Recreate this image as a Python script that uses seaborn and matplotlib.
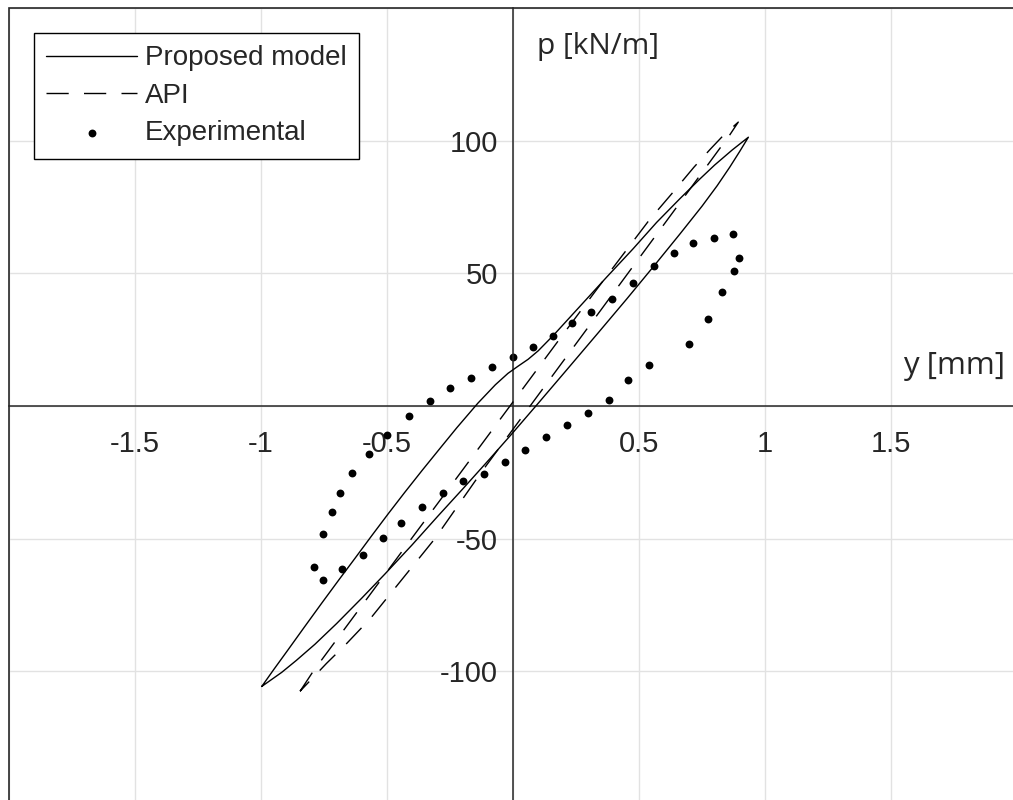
import matplotlib
matplotlib.use("Agg")
import matplotlib.pyplot as plt
import seaborn as sns
import numpy as np
import pandas as pd
from matplotlib.patches import Rectangle

# ---------------- data ----------------
# Proposed model loop: upper branch (from negative tip to positive tip)
model_up_x = [-0.997, -0.95, -0.892, -0.83, -0.759, -0.69, -0.627, -0.56, -0.495, -0.43,
              -0.36, -0.29, -0.223, -0.14, -0.07, -0.02, 0.02, 0.06, 0.10, 0.16, 0.266,
              0.372, 0.477, 0.570, 0.663, 0.742, 0.80, 0.87, 0.934]
model_up_y = [-105.7, -99.4, -91.8, -83.6, -74.3, -65.4, -57.4, -48.8, -40.6, -32.6,
              -24.2, -16.0, -8.2, 1.0, 8.0, 12.3, 15.0, 17.6, 20.8, 26.6, 37.6,
              48.6, 59.3, 69.2, 78.2, 85.6, 90.8, 96.5, 101.3]
# lower branch (from positive tip back to negative tip)
model_lo_x = [0.934, 0.90, 0.86, 0.81, 0.75, 0.663, 0.557, 0.451, 0.34, 0.213, 0.107, 0.0,
              -0.091, -0.197, -0.30, -0.40, -0.508, -0.60, -0.70, -0.786, -0.86, -0.918,
              -0.997]
model_lo_y = [101.3, 96.0, 90.0, 83.0, 75.3, 64.9, 52.5, 40.3, 27.8, 13.6, 1.8, -10.0,
              -19.8, -31.0, -41.7, -52.3, -63.3, -72.4, -82.0, -89.8, -95.9, -100.4,
              -105.7]

# API loop
api_up_x = [-0.845, -0.793, -0.715, -0.598, -0.403, -0.207, -0.012, 0.183, 0.380,
            0.540, 0.630, 0.718, 0.785, 0.835, 0.894]
api_up_y = [-107.5, -100, -90, -75, -50, -25, 0, 25, 50, 70, 80, 90, 97, 102, 107]
api_lo_x = [0.894, 0.859, 0.820, 0.766, 0.650, 0.456, 0.262, 0.068, -0.126, -0.310,
            -0.480, -0.565, -0.665, -0.740, -0.790, -0.845]
api_lo_y = [107, 102, 97, 90, 75, 50, 25, 0, -25, -50, -70, -80, -90, -97, -102, -107.5]

# Experimental points
exp_x = [0.897, 0.878, 0.829, 0.774, 0.700, 0.541, 0.458, 0.381, 0.296, 0.214, 0.132, 0.048,
         -0.032, -0.115, -0.197, -0.279, -0.36, -0.444, -0.514, -0.596, -0.677, -0.753,
         -0.788, -0.753, -0.72, -0.687, -0.639, -0.571, -0.501, -0.413, -0.329, -0.25,
         -0.168, -0.085, 0.001, 0.078, 0.160, 0.233, 0.310, 0.392, 0.477, 0.560, 0.639,
         0.716, 0.799, 0.874]
exp_y = [55.8, 50.7, 42.8, 32.7, 23.3, 15.5, 9.7, 2.4, -2.5, -7.3, -11.8, -16.6,
         -21.0, -25.8, -28.3, -32.9, -38.1, -44.0, -49.7, -56.0, -61.6, -65.4,
         -60.6, -48.2, -39.8, -32.8, -25.3, -18.2, -10.8, -3.8, 1.9, 6.6,
         10.6, 14.7, 18.3, 22.3, 26.4, 31.2, 35.5, 40.4, 46.3, 52.8, 57.6,
         61.4, 63.2, 64.7]

x_ticks = [-2, -1.5, -1, -0.5, 0, 0.5, 1, 1.5, 2]
x_tick_labels = ["", "-1.5", "-1", "-0.5", "", "0.5", "1", "1.5", ""]
y_ticks = [-150, -100, -50, 0, 50, 100, 150]
y_tick_labels = ["", "-100", "-50", "", "50", "100", ""]

labels = ["Proposed model", "API", "Experimental"]
x_label = "y [mm]"
y_label = "p [kN/m]"

# ---------------- style ----------------
sns.set_style("white")
plt.rcParams["font.family"] = ["Liberation Sans", "DejaVu Sans"]
plt.rcParams["lines.scale_dashes"] = False
axis_col = "#262626"

fig = plt.figure(figsize=(10.13, 8.0), dpi=100)
ax = fig.add_axes([9 / 1013, (800 - 804) / 800, 1008 / 1013, 796 / 800])
ax.set_xlim(-2, 2)
ax.set_ylim(-150, 150)

ax.grid(True, color="#e2e2e2", linewidth=1.0, zorder=0)
ax.set_axisbelow(True)

proposed = pd.DataFrame({"x": model_up_x + model_lo_x[1:], "y": model_up_y + model_lo_y[1:]})
api = pd.DataFrame({"x": api_up_x + api_lo_x[1:], "y": api_up_y + api_lo_y[1:]})
exp = pd.DataFrame({"x": exp_x, "y": exp_y})

sns.lineplot(data=proposed, x="x", y="y", sort=False, estimator=None, color="black",
             linewidth=1.0, label=labels[0], ax=ax)
sns.lineplot(data=api, x="x", y="y", sort=False, estimator=None, color="black",
             linewidth=1.0, label=labels[1], ax=ax)
ax.lines[-1].set_dashes((16, 11))
sns.scatterplot(data=exp, x="x", y="y", color="black", s=32, linewidth=0,
                label=labels[2], ax=ax)

# axes through the origin
for side in ("top", "right"):
    ax.spines[side].set_visible(False)
ax.spines["left"].set_position(("data", 0))
ax.spines["bottom"].set_position(("data", 0))
for side in ("left", "bottom"):
    ax.spines[side].set_color(axis_col)
    ax.spines[side].set_linewidth(1.1)
    ax.spines[side].set_zorder(1.5)
ax.add_patch(Rectangle((0, 0), 1, 1, transform=ax.transAxes, fill=False,
                       edgecolor=axis_col, linewidth=1.2, clip_on=False, zorder=5))

ax.set_xticks(x_ticks)
ax.set_xticklabels(x_tick_labels)
ax.set_yticks(y_ticks)
ax.set_yticklabels(y_tick_labels)
ax.tick_params(axis="both", direction="in", length=7.5, width=0.9, colors=axis_col,
               labelsize=21, labelcolor=axis_col)
ax.tick_params(axis="x", pad=17)
ax.tick_params(axis="y", pad=11)
ax.set_xlabel("")
ax.set_ylabel("")

ax.text(1.548, 12, x_label, family="Open Sans", fontsize=22.5, color=axis_col,
        ha="left", va="baseline")
ax.text(0.095, 132.7, y_label, family="Open Sans", fontsize=21.5, color=axis_col,
        ha="left", va="baseline")

leg = ax.legend(loc="upper left", bbox_to_anchor=(0.0248, 0.9686), borderaxespad=0,
                frameon=True, fancybox=False, framealpha=1, edgecolor="black",
                fontsize=20, handlelength=3.25, handletextpad=0.3, labelspacing=0.41,
                borderpad=0.45)
leg.get_frame().set_linewidth(1.0)
leg.set_zorder(10)

fig.savefig("out.png", dpi=100)
